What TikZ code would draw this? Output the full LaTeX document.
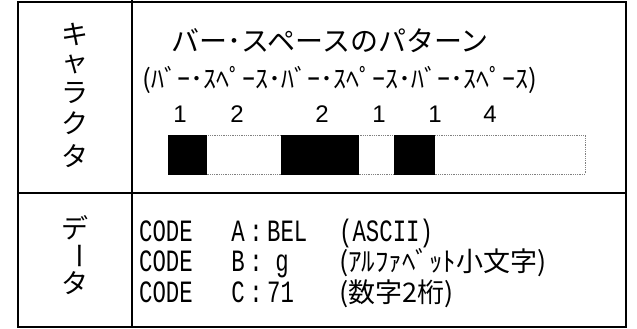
\documentclass[tikz,border=0pt]{standalone}
\usepackage{fontspec}
\newfontfamily\jp{Noto Sans CJK JP}
\newfontfamily\mono[FakeStretch=0.72]{Liberation Mono}
\newfontfamily\arial{Liberation Sans}
\tikzset{
  frameline/.style={line width=1.6pt, black},
  vchar/.style={font=\jp\fontsize{27}{27}\selectfont, inner sep=0pt},
  title/.style={font=\jp\fontsize{28}{28}\selectfont, inner sep=0pt},
  half/.style={font=\jp\fontsize{26}{26}\selectfont, inner sep=0pt},
  digit/.style={font=\arial\fontsize{24}{24}\selectfont, inner sep=0pt},
  code/.style={font=\mono\fontsize{31}{31}\selectfont, inner sep=0pt, text height=18pt, text depth=2pt},
  codejp/.style={font=\jp\fontsize{27}{27}\selectfont, inner sep=0pt, text height=19pt, text depth=3pt},
  barblack/.style={fill=black, draw=black},
  barspace/.style={draw=gray, densely dotted, line width=0.8pt, fill=white},
}
\begin{document}
\begin{tikzpicture}[x=1pt,y=-1pt]
\useasboundingbox (0,0) rectangle (637,329);
% frame
\draw[frameline] (18,2) rectangle (626,327);
\draw[frameline] (132,0) -- (132,327);
\draw[frameline] (18,193) -- (626,193);
% left column
\node[vchar] (k1) at (75,34) {キ};
\node[vchar] (k2) at (75,64) {ャ};
\node[vchar] (k3) at (75,93) {ラ};
\node[vchar] (k4) at (75,123) {ク};
\node[vchar] (k5) at (75,156) {タ};
\node[vchar] (d1) at (75,228) {デ};
\node[vchar, rotate=-90] (d2) at (75,256) {ー};
\node[vchar] (d3) at (75,283) {タ};
% upper right
\node[title] (t) at (330,41) {バー･スペースのパターン};
\node[half] (h) at (340,80) {(ﾊﾞｰ･ｽﾍﾟｰｽ･ﾊﾞｰ･ｽﾍﾟｰｽ･ﾊﾞｰ･ｽﾍﾟｰｽ)};
\node[digit] (n1) at (180,114) {1};
\node[digit] (n2) at (237,114) {2};
\node[digit] (n3) at (322,114) {2};
\node[digit] (n4) at (379,114) {1};
\node[digit] (n5) at (435,114) {1};
\node[digit] (n6) at (490,114) {4};
% bars
\draw[barspace] (206,135) rectangle (281,174);
\draw[barspace] (358,135) rectangle (394,174);
\draw[barspace] (434,135) rectangle (585,174);
\draw[barblack] (168,135) rectangle (206,174);
\draw[barblack] (281,135) rectangle (358,174);
\draw[barblack] (394,135) rectangle (434,174);
% lower right
\node[code, anchor=west] (c1) at (139,233) {CODE};
\node[code] (a1) at (238,233) {A};
\node[code] (s1) at (256,233) {:};
\node[code, anchor=west] (v1) at (267,233) {BEL};
\node[code, anchor=west] (p1) at (339,233) {(ASCII)};
\node[code, anchor=west] (c2) at (139,263) {CODE};
\node[code] (a2) at (238,263) {B};
\node[code] (s2) at (256,263) {:};
\node[code] (v2) at (282,263) {g};
\node[codejp, anchor=west] (p2) at (339,263) {(ｱﾙﾌｧﾍﾞｯﾄ小文字)};
\node[code, anchor=west] (c3) at (139,294) {CODE};
\node[code] (a3) at (238,294) {C};
\node[code] (s3) at (256,294) {:};
\node[code, anchor=west] (v3) at (267,294) {71};
\node[codejp, anchor=west] (p3) at (339,294) {(数字2桁)};
\end{tikzpicture}
\end{document}
